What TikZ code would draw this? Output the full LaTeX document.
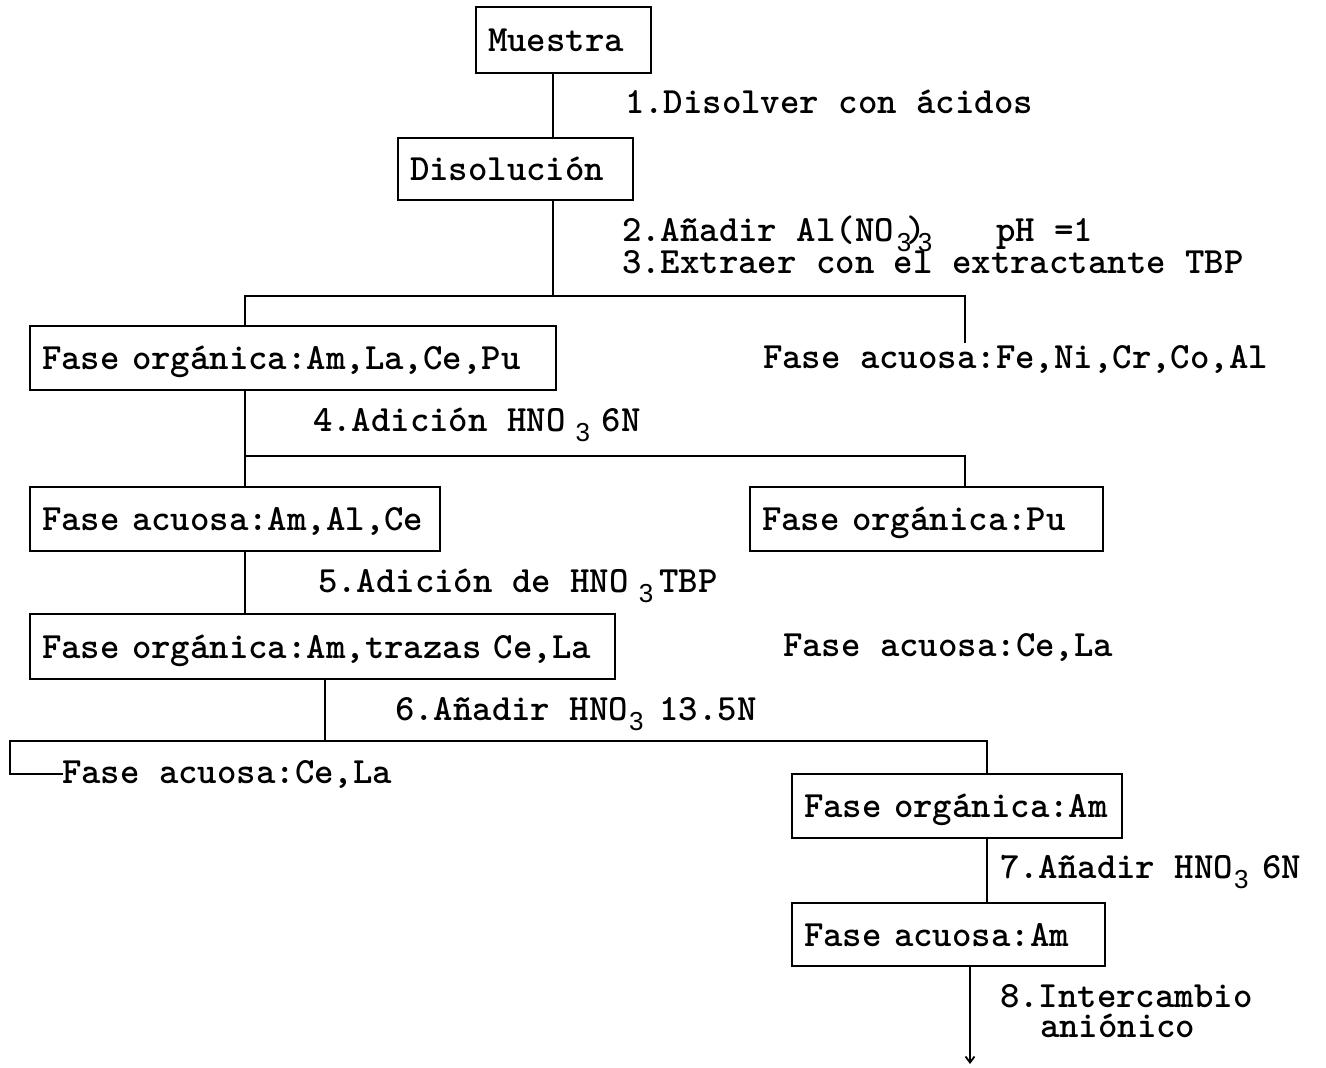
\documentclass[tikz,border=0pt]{standalone}
\usepackage{fontspec}
\usetikzlibrary{arrows.meta}
% typewriter text and the small lowered index digit
\newfontfamily\indexfont{Liberation Sans}
\newcommand\flowfont{\fontsize{37}{40}\selectfont\ttfamily\bfseries}
\newcommand\lowsub[1]{\raisebox{-10pt}{\indexfont\mdseries\fontsize{26}{26}\selectfont #1}}
\begin{document}
\begin{tikzpicture}[x=1pt,y=-1pt,
  every node/.style={font=\flowfont, inner sep=0pt, outer sep=0pt},
  conn/.style={line width=1.8pt, line cap=rect},
  stepbox/.style={draw, line width=1.8pt, anchor=north west, inner xsep=12pt,
    inner ysep=0pt, align=left, text height=23pt, text depth=0pt,
    minimum height=64pt},
  lbl/.style={anchor=base west}]
\useasboundingbox (0,0) rectangle (1326,1068);

% boxes
\node[stepbox, text width=151pt, minimum height=66pt] (m)  at (476,7)   {Muestra};
\node[stepbox, text width=211pt, minimum height=62pt] (d)  at (398,138) {Disolución};
\node[stepbox, text width=502pt] (o1) at (30,326)  {Fase orgánica:Am,La,Ce,Pu};
\node[stepbox, text width=386pt] (a1) at (30,487)  {Fase acuosa:Am,Al,Ce};
\node[stepbox, text width=329pt] (pu) at (750,487) {Fase orgánica:Pu};
\node[stepbox, text width=561pt, minimum height=65pt] (o2) at (30,614) {Fase orgánica:Am,trazas Ce,La};
\node[stepbox, text width=306pt] (am) at (792,774) {Fase orgánica:Am};
\node[stepbox, text width=289pt, minimum height=63pt] (aq) at (792,903) {Fase acuosa:Am};

% free phases
\node[lbl] (fe)  at (763,368) {Fase acuosa:Fe,Ni,Cr,Co,Al};
\node[lbl] (ce1) at (783,656) {Fase acuosa:Ce,La};
\node[lbl] (ce2) at (62,783)  {Fase acuosa:Ce,La};

% step labels
\node[lbl] (s1) at (625,113) {1.Disolver con ácidos};
\node[lbl] (s2) at (622,241) {2.Añadir Al(NO\hspace{3pt}\lowsub{3}\hspace{-5pt})\hspace{-8pt}\lowsub{3}\hspace{64pt}pH =1};
\node[lbl] (s3) at (622,273) {3.Extraer con el extractante TBP};
\node[lbl] (s4) at (313,431) {4.Adición HNO\hspace{10pt}\lowsub{3}\hspace{12pt}6N};
\node[lbl] (s5) at (318,592) {5.Adición de HNO\hspace{10pt}\lowsub{3}\hspace{6pt}TBP};
\node[lbl] (s6) at (395,720) {6.Añadir HNO\hspace{1pt}\lowsub{3}\hspace{16pt}13.5N};
\node[lbl] (s7) at (1000,878) {7.Añadir HNO\hspace{1pt}\lowsub{3}\hspace{14pt}6N};
\node[lbl] (s8a) at (1000,1007) {8.Intercambio};
\node[lbl] (s8b) at (1040,1037) {aniónico};

% branch points
\coordinate (c1) at (553,0);
\coordinate (j1)  at (553,296);
\coordinate (j1l) at (245,296);
\coordinate (j1r) at (965,296);
\coordinate (j2l) at (245,456);
\coordinate (j2r) at (965,456);
\coordinate (j3)  at (325,741);
\coordinate (j3l) at (10,741);
\coordinate (j3r) at (987,741);
\coordinate (c8)  at (970,0);
\coordinate (tip) at (970,1064);

% connectors
\draw[conn] (m.south -| c1) -- (d.north -| c1);
\draw[conn] (d.south -| c1) -- (j1);
\draw[conn] (o1.north -| j1l) -- (j1l) -- (j1r) -- ([yshift=3pt]fe.north -| j1r);
\draw[conn] (o1.south -| j2l) -- (a1.north -| j2l);
\draw[conn] (j2l) -- (j2r) -- (pu.north -| j2r);
\draw[conn] (a1.south -| j2l) -- (o2.north -| j2l);
\draw[conn] (o2.south -| j3) -- (j3);
\draw[conn] (ce2.west) -- (ce2.west -| j3l) -- (j3l) -- (j3r) -- (am.north -| j3r);
\draw[conn] (am.south -| j3r) -- (aq.north -| j3r);
\draw[line width=1.8pt, -{Straight Barb[length=6pt,width=9pt]}] (aq.south -| c8) -- (tip);
\end{tikzpicture}
\end{document}
